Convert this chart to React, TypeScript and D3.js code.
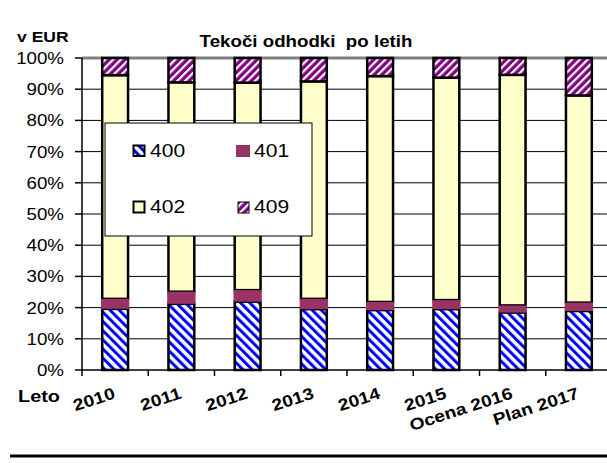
import React from 'react';
import * as d3 from 'd3';

const years = ['2010', '2011', '2012', '2013', '2014', '2015', 'Ocena 2016', 'Plan 2017'];
const s400 = [19.6, 21.2, 21.9, 19.5, 19.2, 19.5, 18.4, 18.9];
const s401 = [3.2, 3.9, 3.7, 3.3, 2.6, 2.9, 2.3, 2.7];
const s402 = [71.7, 67.1, 66.5, 69.7, 72.4, 71.3, 73.9, 66.4];
const s409 = [5.5, 7.8, 7.9, 7.5, 5.8, 6.3, 5.4, 12.0];
const yTicks = [0, 10, 20, 30, 40, 50, 60, 70, 80, 90, 100];
const seriesKeys = ['400', '401', '402', '409'];

const W = 607;
const H = 463;
const SX = 1.17; // the original text is drawn a bit wider than Arial
const FONT = 'Liberation Sans, Arial, sans-serif';

const T = ({ x, y, size, bold, anchor, rotate, children }: any) => (
  <g transform={`translate(${x},${y}) rotate(${rotate || 0}) scale(${SX},1)`}>
    <text
      fontFamily={FONT}
      fontSize={size}
      fontWeight={bold ? 'bold' : 'normal'}
      textAnchor={anchor || 'start'}
      fill="#000"
      style={{ whiteSpace: 'pre' }}
    >
      {children}
    </text>
  </g>
);

export default function App() {
  const rows = years.map((yr, i) => ({
    year: yr,
    '400': s400[i],
    '401': s401[i],
    '402': s402[i],
    '409': s409[i],
  }));
  const stacked = d3.stack<any>().keys(seriesKeys)(rows);

  const x = d3.scaleBand().domain(years).range([82, 612]).padding(0);
  const y = d3.scaleLinear().domain([0, 100]).range([370, 58]);
  const bw = x.bandwidth() * 0.39;
  const sw = 2.5;

  const fills: Record<string, string> = {
    '400': 'url(#p400)',
    '401': '#993366',
    '402': '#FFFFCC',
    '409': 'url(#p409)',
  };

  // 401 goes last: it has no outline and covers the bar border
  const drawOrder = ['400', '402', '409', '401'];

  return (
    <div style={{ position: 'absolute', left: 0, top: 0 }}>
      <svg width={W} height={H} style={{ display: 'block', background: '#fff' }}>
        <defs>
          <pattern id="p400" patternUnits="userSpaceOnUse" width={6.5} height={6.5} patternTransform="rotate(-45)">
            <rect width={6.5} height={6.5} fill="#fff" />
            <rect x={0} y={0} width={3} height={6.5} fill="#0000FF" />
          </pattern>
          <pattern id="p409" patternUnits="userSpaceOnUse" width={5.5} height={5.5} patternTransform="rotate(45)">
            <rect width={5.5} height={5.5} fill="#800080" />
            <rect x={0} y={0} width={2.2} height={5.5} fill="#fff" />
          </pattern>
        </defs>

        {/* gridlines */}
        {yTicks.map((t) => (
          <line
            key={t}
            x1={82}
            x2={W}
            y1={y(t)}
            y2={y(t)}
            stroke={t === 100 ? '#808080' : t === 0 ? 'none' : '#000'}
            strokeWidth={t === 100 ? 3 : 1}
          />
        ))}

        {/* bars */}
        {drawOrder.map((k) => {
          const layer = stacked.find((s) => s.key === k)!;
          return (
            <g key={k}>
              {layer.map((d, i) => {
                const cx = (x(years[i]) as number) + x.bandwidth() / 2;
                const top = y(d[1]);
                const bot = y(d[0]);
                if (k === '401') {
                  return (
                    <rect key={i} x={cx - bw / 2 - sw / 2} y={top} width={bw + sw} height={bot - top} fill={fills[k]} />
                  );
                }
                return (
                  <rect
                    key={i}
                    x={cx - bw / 2}
                    y={top}
                    width={bw}
                    height={bot - top}
                    fill={fills[k]}
                    stroke="#000"
                    strokeWidth={sw}
                  />
                );
              })}
            </g>
          );
        })}

        {/* axes */}
        <line x1={82} x2={82} y1={58} y2={370} stroke="#000" strokeWidth={1.5} />
        <line x1={82} x2={W} y1={370} y2={370} stroke="#000" strokeWidth={1.5} />
        {yTicks.map((t) => (
          <line key={'yt' + t} x1={75} x2={82} y1={y(t)} y2={y(t)} stroke="#000" strokeWidth={1.5} />
        ))}
        {years.map((yr) => (
          <line
            key={'xt' + yr}
            x1={x(yr) as number}
            x2={x(yr) as number}
            y1={370}
            y2={376}
            stroke="#000"
            strokeWidth={1.5}
          />
        ))}

        {yTicks.map((t) => (
          <T key={'yl' + t} x={64} y={y(t) + 6} size={16} anchor="end">
            {t + '%'}
          </T>
        ))}

        {years.map((yr) => (
          <T
            key={'xl' + yr}
            x={(x(yr) as number) + x.bandwidth() / 2 + 1}
            y={398}
            size={16.5}
            bold
            anchor="end"
            rotate={-18}
          >
            {yr}
          </T>
        ))}

        {/* legend */}
        <rect x={105} y={123} width={207} height={113} fill="#fff" stroke="#000" strokeWidth={1} />
        <rect x={133.5} y={145.5} width={11} height={10.5} fill="url(#p400)" stroke="#000" strokeWidth={2} />
        <T x={150} y={157} size={18}>400</T>
        <rect x={236} y={145} width={14} height={12} fill="#993366" />
        <T x={254} y={157} size={18}>401</T>
        <rect x={133.5} y={201.5} width={11} height={11} fill="#FFFFCC" stroke="#000" strokeWidth={2} />
        <T x={150} y={213} size={18}>402</T>
        <rect x={238} y={202} width={11} height={11} fill="url(#p409)" stroke="#000" strokeWidth={1} />
        <T x={254} y={213} size={18}>409</T>

        {/* titles */}
        <T x={17} y={42} size={15} bold>v EUR</T>
        <T x={306} y={47} size={16} bold anchor="middle">Tekoči odhodki  po letih</T>
        <T x={18} y={402} size={17} bold>Leto</T>

        <line x1={10} x2={W} y1={456} y2={456} stroke="#000" strokeWidth={3} />
      </svg>
    </div>
  );
}
